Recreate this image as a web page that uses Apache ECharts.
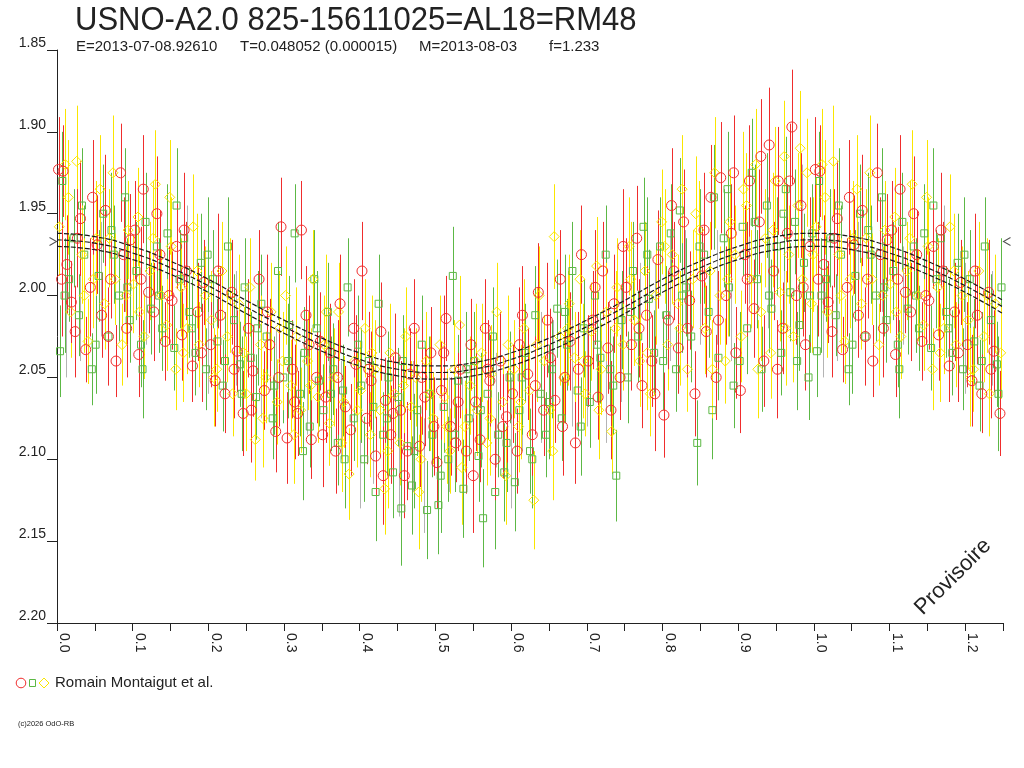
<!DOCTYPE html>
<html>
<head>
<meta charset="utf-8">
<title>USNO-A2.0 825-15611025</title>
<script src="https://cdn.jsdelivr.net/npm/echarts@6/dist/echarts.min.js"></script>
<style>
  html, body { margin: 0; padding: 0; background: #fff; }
  #chart { width: 1024px; height: 768px; }
</style>
</head>
<body>
<div id="chart"></div>
<script>
const redObs = [
  [0.002,1.923,0.032],[0.008,1.924,0.028],[0.013,1.981,0.03],[0.019,2.004,0.025],[0.024,2.022,0.028],[0.031,1.953,0.035],[0.038,2.033,0.02],[0.044,1.995,0.03],
  [0.053,1.969,0.03],[0.059,2.012,0.026],[0.064,1.948,0.034],[0.071,1.99,0.024],[0.078,2.04,0.022],[0.084,1.925,0.03],[0.092,2.02,0.03],[0.097,1.966,0.028],
  [0.103,1.96,0.03],[0.108,2.036,0.026],[0.114,1.935,0.033],[0.121,1.998,0.025],[0.128,2.01,0.03],[0.136,1.975,0.027],[0.143,2.028,0.024],
  [0.152,2.003,0.03],[0.158,1.97,0.026],[0.165,2.024,0.028],[0.171,1.985,0.03],[0.179,2.043,0.022],[0.186,2.01,0.03],[0.194,1.992,0.026],
  [0.203,2.03,0.026],[0.209,2.052,0.028],[0.216,2.012,0.03],[0.222,2.06,0.024],[0.231,1.998,0.032],[0.238,2.034,0.025],[0.246,2.072,0.026],
  [0.253,2.02,0.03],[0.259,2.046,0.028],[0.267,1.99,0.03],[0.274,2.058,0.024],[0.281,2.03,0.028],[0.289,2.083,0.025],[0.296,1.958,0.03],
  [0.304,2.087,0.028],[0.311,2.045,0.03],[0.318,2.072,0.026],[0.323,1.96,0.03],[0.329,2.012,0.03],[0.336,2.088,0.024],[0.343,2.05,0.028],[0.348,2.028,0.03],
  [0.355,2.062,0.028],[0.361,2.035,0.03],[0.368,2.095,0.026],[0.374,2.005,0.03],[0.381,2.068,0.025],[0.388,2.082,0.028],[0.395,2.042,0.03],
  [0.403,1.985,0.03],[0.409,2.075,0.028],[0.415,2.052,0.03],[0.421,2.098,0.024],[0.428,2.022,0.03],[0.434,2.064,0.026],[0.441,2.085,0.03],[0.447,2.038,0.027],
  [0.454,2.07,0.03],[0.459,2.11,0.026],[0.466,2.048,0.028],[0.472,2.02,0.03],[0.479,2.092,0.025],[0.486,2.062,0.03],[0.494,2.035,0.028],
  [0.502,2.102,0.028],[0.508,2.058,0.03],[0.514,2.014,0.026],[0.52,2.08,0.03],[0.527,2.09,0.024],[0.533,2.045,0.03],[0.541,2.095,0.026],[0.547,2.03,0.028],
  [0.553,2.065,0.03],[0.559,2.088,0.026],[0.566,2.02,0.03],[0.572,2.052,0.028],[0.579,2.1,0.025],[0.586,2.04,0.03],[0.594,2.074,0.028],
  [0.602,2.06,0.03],[0.608,2.095,0.026],[0.615,2.012,0.03],[0.622,2.048,0.028],[0.628,2.085,0.025],[0.636,1.998,0.03],[0.643,2.07,0.028],
  [0.652,2.038,0.03],[0.658,2.064,0.026],[0.665,1.99,0.03],[0.671,2.05,0.028],[0.678,2.028,0.03],[0.685,2.09,0.025],[0.693,1.975,0.03],
  [0.702,2.04,0.028],[0.708,2.015,0.03],[0.715,2.062,0.026],[0.721,1.985,0.03],[0.728,2.032,0.028],[0.736,2.005,0.03],[0.744,2.05,0.026],
  [0.752,1.995,0.03],[0.759,2.03,0.028],[0.766,1.965,0.032],[0.773,2.055,0.026],[0.779,2.012,0.03],[0.786,2.04,0.028],[0.794,1.978,0.03],
  [0.802,2.073,0.026],[0.808,2.015,0.03],[0.815,1.985,0.03],[0.821,2.032,0.028],[0.828,1.955,0.032],[0.836,2.003,0.03],[0.843,2.06,0.026],
  [0.852,1.988,0.03],[0.858,2.022,0.028],[0.864,1.94,0.032],[0.871,2.05,0.026],[0.877,1.928,0.034],[0.884,2.0,0.03],[0.891,1.962,0.03],[0.897,2.035,0.028],
  [0.903,2.058,0.026],[0.909,1.975,0.03],[0.915,1.93,0.034],[0.921,2.008,0.03],[0.928,1.955,0.032],[0.934,2.04,0.028],[0.941,1.908,0.035],[0.947,1.985,0.03],
  [0.953,1.93,0.033],[0.959,2.02,0.028],[0.965,1.962,0.03],[0.971,1.897,0.035],[0.977,2.0,0.03],[0.983,1.945,0.032],[0.989,2.03,0.028],[0.995,1.97,0.03],
  [0.006,1.99,0.035],[0.027,1.965,0.03],[0.047,1.94,0.035],[0.068,2.025,0.03],[0.088,1.975,0.035],[0.111,1.99,0.032],[0.132,1.95,0.035],[0.148,2.0,0.03],
  [0.168,1.96,0.035],[0.191,2.035,0.03],[0.213,1.985,0.035],[0.234,2.045,0.03],[0.257,2.07,0.032],[0.278,2.01,0.035],[0.293,2.05,0.03],[0.314,2.065,0.035],
  [0.333,2.03,0.03],[0.351,2.085,0.032],[0.371,2.05,0.035],[0.392,2.02,0.03],[0.412,2.045,0.035],[0.431,2.11,0.03],[0.444,2.072,0.035],[0.463,2.095,0.03],
  [0.482,2.05,0.035],[0.498,2.08,0.03],[0.511,2.035,0.035],[0.53,2.065,0.03],[0.55,2.11,0.035],[0.569,2.045,0.03],[0.589,2.08,0.032],[0.611,2.03,0.035],
  [0.632,2.055,0.03],[0.648,2.015,0.035],[0.668,2.08,0.03],[0.689,2.045,0.035],[0.711,1.995,0.035],[0.732,2.07,0.03],[0.748,1.97,0.035],[0.769,2.02,0.03],
  [0.79,2.06,0.035],[0.812,1.945,0.035],[0.833,2.02,0.03],[0.855,1.96,0.035],[0.874,2.015,0.03],[0.894,1.925,0.035],[0.912,1.99,0.035],[0.93,1.915,0.035],
  [0.952,2.045,0.03],[0.968,1.93,0.035],[0.986,1.995,0.03]
];
const greenObs = [
  [0.004,2.034,0.028],[0.007,1.93,0.03],[0.016,1.99,0.026],[0.022,1.965,0.03],[0.029,2.012,0.025],[0.036,1.975,0.03],[0.046,2.045,0.022],
  [0.055,1.988,0.028],[0.061,1.95,0.03],[0.068,2.025,0.026],[0.075,1.975,0.03],[0.082,2.0,0.028],[0.09,1.94,0.03],[0.096,2.015,0.026],
  [0.105,1.985,0.03],[0.111,2.03,0.026],[0.117,1.955,0.03],[0.124,2.008,0.028],[0.132,1.97,0.03],[0.139,2.02,0.026],[0.146,1.962,0.03],
  [0.155,2.032,0.026],[0.162,1.99,0.03],[0.168,1.965,0.03],[0.175,2.01,0.028],[0.183,2.035,0.026],[0.19,1.98,0.03],[0.197,2.045,0.025],
  [0.206,1.99,0.03],[0.212,2.028,0.026],[0.219,2.055,0.028],[0.226,1.97,0.03],[0.234,2.015,0.028],[0.242,2.042,0.026],[0.248,1.995,0.03],
  [0.256,2.038,0.028],[0.263,2.062,0.026],[0.27,2.005,0.03],[0.277,2.025,0.028],[0.285,2.075,0.025],[0.292,1.985,0.03],[0.299,2.05,0.028],
  [0.307,2.018,0.03],[0.314,1.962,0.03],[0.321,2.06,0.026],[0.327,2.035,0.028],[0.334,2.08,0.025],[0.34,1.99,0.03],[0.346,2.052,0.028],
  [0.352,2.07,0.028],[0.358,2.01,0.03],[0.365,2.045,0.028],[0.371,2.09,0.026],[0.378,2.058,0.028],[0.384,1.995,0.03],[0.392,2.075,0.026],[0.398,2.03,0.03],
  [0.406,2.1,0.026],[0.412,2.04,0.03],[0.418,2.068,0.028],[0.425,2.005,0.03],[0.431,2.085,0.026],[0.438,2.05,0.028],[0.444,2.108,0.028],
  [0.451,2.062,0.03],[0.457,2.04,0.028],[0.463,2.092,0.026],[0.469,2.116,0.03],[0.476,2.07,0.028],[0.482,2.03,0.03],[0.489,2.131,0.03],[0.496,2.085,0.026],
  [0.504,2.128,0.03],[0.511,2.068,0.028],[0.517,2.1,0.026],[0.523,1.988,0.03],[0.53,2.052,0.028],[0.537,2.118,0.03],[0.544,2.075,0.026],
  [0.551,2.04,0.03],[0.557,2.098,0.028],[0.563,2.136,0.03],[0.569,2.06,0.028],[0.576,2.025,0.03],[0.583,2.085,0.026],[0.591,2.108,0.03],[0.598,2.05,0.028],
  [0.605,2.114,0.03],[0.611,2.07,0.028],[0.618,2.035,0.03],[0.625,2.095,0.026],[0.632,2.012,0.03],[0.639,2.06,0.028],[0.646,2.085,0.026],
  [0.654,2.045,0.03],[0.661,2.008,0.03],[0.667,2.075,0.026],[0.674,2.03,0.028],[0.681,1.985,0.03],[0.688,2.058,0.028],[0.696,2.02,0.03],
  [0.704,2.065,0.028],[0.711,2.0,0.03],[0.718,2.038,0.028],[0.725,1.975,0.03],[0.731,2.045,0.026],[0.739,2.11,0.028],[0.746,2.015,0.03],
  [0.754,2.05,0.028],[0.761,1.985,0.03],[0.768,2.025,0.028],[0.775,1.958,0.03],[0.782,2.002,0.03],[0.789,2.035,0.026],[0.797,1.97,0.03],
  [0.805,2.012,0.03],[0.811,1.962,0.03],[0.818,2.045,0.026],[0.823,1.948,0.032],[0.831,1.995,0.03],[0.838,2.025,0.028],[0.846,2.09,0.026],
  [0.855,1.975,0.03],[0.861,2.01,0.028],[0.868,1.94,0.032],[0.874,2.038,0.026],[0.881,1.965,0.03],[0.888,1.995,0.03],[0.894,2.055,0.026],
  [0.906,1.958,0.03],[0.912,2.02,0.028],[0.918,1.925,0.033],[0.925,1.99,0.03],[0.931,2.045,0.026],[0.938,1.945,0.032],[0.944,2.008,0.03],
  [0.951,1.97,0.03],[0.957,2.035,0.026],[0.963,1.935,0.032],[0.969,1.998,0.03],[0.975,1.955,0.032],[0.981,2.018,0.028],[0.987,1.98,0.03],[0.993,2.05,0.026],[0.998,1.962,0.03],
  [0.01,2.0,0.035],[0.033,1.945,0.035],[0.051,2.03,0.03],[0.072,1.96,0.035],[0.093,1.995,0.03],[0.113,2.045,0.03],[0.135,2.0,0.035],[0.158,1.945,0.035],
  [0.178,2.02,0.03],[0.199,1.975,0.035],[0.222,2.04,0.03],[0.244,2.06,0.035],[0.265,2.02,0.035],[0.287,2.055,0.03],[0.305,2.04,0.035],[0.325,2.095,0.03],
  [0.343,2.02,0.035],[0.362,2.06,0.035],[0.38,2.1,0.03],[0.402,2.055,0.035],[0.421,2.12,0.03],[0.436,2.075,0.035],[0.455,2.13,0.035],[0.472,2.095,0.035],
  [0.492,2.06,0.035],[0.507,2.11,0.035],[0.526,2.085,0.035],[0.541,2.045,0.035],[0.56,2.07,0.035],[0.579,2.12,0.035],[0.594,2.09,0.03],[0.614,2.05,0.035],
  [0.628,2.1,0.03],[0.65,2.065,0.035],[0.671,2.01,0.035],[0.692,2.08,0.03],[0.714,2.03,0.035],[0.735,2.055,0.03],[0.758,2.01,0.035],[0.78,1.975,0.035],
  [0.801,2.04,0.03],[0.826,2.0,0.035],[0.849,1.97,0.035],[0.866,2.07,0.03],[0.886,1.935,0.035],[0.902,2.04,0.03],[0.922,1.955,0.035],[0.941,2.0,0.035],
  [0.96,1.95,0.035],[0.978,2.04,0.03],[0.995,2.0,0.035]
];
const yellowObs = [
  [0.003,1.958,0.03],[0.011,1.92,0.034],[0.018,2.01,0.028],[0.026,1.918,0.034],[0.033,1.975,0.03],[0.041,2.028,0.026],[0.048,1.99,0.03],
  [0.057,1.935,0.033],[0.063,2.005,0.028],[0.069,1.965,0.03],[0.077,1.99,0.028],[0.086,2.03,0.025],[0.094,1.96,0.03],
  [0.101,1.993,0.03],[0.107,1.952,0.03],[0.115,2.025,0.026],[0.123,1.985,0.03],[0.13,1.932,0.033],[0.138,2.0,0.028],[0.145,2.018,0.028],
  [0.151,1.97,0.03],[0.157,2.045,0.025],[0.164,1.995,0.03],[0.172,2.02,0.028],[0.18,1.958,0.032],[0.188,2.03,0.026],[0.196,2.0,0.03],
  [0.204,2.015,0.03],[0.211,2.045,0.026],[0.218,1.985,0.03],[0.225,2.025,0.028],[0.232,2.06,0.026],[0.24,2.005,0.03],[0.247,2.035,0.028],
  [0.255,1.995,0.03],[0.262,2.088,0.025],[0.269,2.03,0.03],[0.276,2.05,0.028],[0.283,2.01,0.03],[0.291,2.065,0.026],[0.298,2.04,0.03],
  [0.302,2.0,0.03],[0.309,2.055,0.028],[0.316,2.025,0.03],[0.322,2.07,0.026],[0.331,2.04,0.03],[0.338,1.99,0.03],[0.345,2.062,0.028],
  [0.353,2.03,0.03],[0.36,2.078,0.026],[0.366,2.05,0.03],[0.372,2.01,0.03],[0.379,2.065,0.028],[0.386,2.109,0.028],[0.393,2.04,0.03],
  [0.401,2.058,0.03],[0.407,2.02,0.03],[0.414,2.085,0.026],[0.42,2.045,0.03],[0.427,2.07,0.028],[0.433,2.118,0.028],[0.44,2.035,0.03],[0.446,2.06,0.028],
  [0.453,2.09,0.026],[0.461,2.025,0.03],[0.468,2.068,0.028],[0.474,2.05,0.03],[0.481,2.1,0.026],[0.488,2.04,0.03],[0.497,2.075,0.028],
  [0.506,2.03,0.03],[0.512,2.062,0.028],[0.519,2.095,0.026],[0.525,2.045,0.03],[0.532,2.018,0.03],[0.539,2.08,0.028],[0.546,2.055,0.03],
  [0.555,2.07,0.028],[0.561,2.035,0.03],[0.568,2.09,0.026],[0.574,2.048,0.03],[0.581,2.01,0.03],[0.589,2.065,0.028],[0.596,2.03,0.03],
  [0.604,2.045,0.03],[0.61,2.08,0.028],[0.617,2.02,0.03],[0.624,2.058,0.028],[0.63,2.125,0.03],[0.637,2.0,0.03],[0.644,2.04,0.028],
  [0.651,2.07,0.028],[0.657,1.964,0.032],[0.664,2.025,0.03],[0.67,2.05,0.028],[0.677,2.005,0.03],[0.684,2.038,0.028],[0.691,1.99,0.03],[0.698,2.06,0.026],
  [0.706,2.022,0.03],[0.713,1.982,0.03],[0.719,2.045,0.028],[0.726,2.01,0.03],[0.733,2.083,0.026],[0.74,1.995,0.03],[0.748,2.03,0.028],
  [0.756,1.97,0.03],[0.763,2.015,0.028],[0.77,2.04,0.028],[0.777,1.985,0.03],[0.784,2.06,0.026],[0.791,2.0,0.03],[0.799,1.955,0.032],
  [0.807,2.03,0.028],[0.813,1.975,0.03],[0.82,2.005,0.03],[0.826,1.935,0.033],[0.833,2.045,0.026],[0.84,1.99,0.03],[0.848,1.96,0.03],
  [0.856,2.02,0.028],[0.863,1.985,0.03],[0.869,1.925,0.034],[0.876,2.0,0.03],[0.883,2.04,0.026],[0.889,1.955,0.032],[0.896,1.975,0.03],
  [0.904,2.025,0.028],[0.911,1.945,0.032],[0.917,1.99,0.03],[0.923,1.92,0.034],[0.93,2.01,0.03],[0.936,1.965,0.03],[0.943,2.035,0.028],[0.949,1.93,0.033],
  [0.955,1.998,0.03],[0.961,1.915,0.034],[0.967,1.975,0.03],[0.973,2.025,0.028],[0.979,1.945,0.032],[0.985,1.99,0.03],[0.991,1.925,0.033],[0.997,2.005,0.03],
  [0.015,1.94,0.035],[0.036,2.0,0.035],[0.052,1.965,0.035],[0.074,1.925,0.035],[0.091,2.0,0.03],[0.109,2.01,0.035],[0.127,1.965,0.035],[0.149,1.94,0.035],
  [0.167,2.035,0.03],[0.185,1.985,0.035],[0.207,2.05,0.03],[0.229,2.0,0.035],[0.25,2.06,0.035],[0.272,2.075,0.03],[0.294,2.02,0.035],[0.313,2.085,0.03],
  [0.335,2.055,0.035],[0.356,2.01,0.035],[0.376,2.09,0.03],[0.397,2.07,0.035],[0.416,2.035,0.035],[0.437,2.095,0.035],[0.458,2.055,0.035],[0.478,2.12,0.035],
  [0.493,2.06,0.035],[0.515,2.08,0.035],[0.535,2.105,0.035],[0.553,2.04,0.035],[0.572,2.075,0.035],[0.593,2.11,0.03],[0.613,2.065,0.035],[0.634,2.03,0.035],
  [0.655,2.095,0.03],[0.675,2.02,0.035],[0.695,2.04,0.035],[0.716,2.07,0.03],[0.738,2.02,0.035],[0.758,1.99,0.035],[0.78,2.035,0.035],[0.803,1.97,0.035],
  [0.823,2.02,0.035],[0.844,1.95,0.035],[0.866,2.045,0.03],[0.886,1.99,0.035],[0.907,1.935,0.035],[0.926,2.045,0.03],[0.946,1.96,0.035],[0.963,2.02,0.035],
  [0.982,1.91,0.035],[0.999,1.975,0.035]
];
// bars drawn without a marker
const grayObs = [
  [0.012,2.02,0.03],[0.058,1.99,0.035],[0.118,2.0,0.03],[0.172,1.975,0.03],[0.236,2.02,0.035],[0.27,2.045,0.03],
  [0.33,2.05,0.035],[0.375,2.07,0.03],[0.418,2.08,0.035],[0.452,2.1,0.035],[0.485,2.11,0.035],[0.518,2.085,0.035],
  [0.55,2.1,0.035],[0.58,2.07,0.035],[0.615,2.06,0.035],[0.655,2.045,0.03],[0.7,2.05,0.03],[0.745,2.03,0.035],
  [0.79,2.01,0.03],[0.83,1.99,0.03],[0.872,1.995,0.035],[0.915,1.97,0.035],[0.96,1.99,0.03],
  [0.03,2.0,0.04],[0.09,1.97,0.04],[0.145,1.99,0.04],[0.2,2.02,0.04],[0.29,2.06,0.04],[0.36,2.05,0.04],[0.4,2.09,0.04],
  [0.47,2.08,0.04],[0.535,2.09,0.04],[0.6,2.09,0.04],[0.64,2.05,0.04],[0.68,2.04,0.04],[0.725,2.05,0.04],[0.77,2.02,0.04],
  [0.81,2.0,0.04],[0.85,1.99,0.04],[0.89,2.0,0.04],[0.94,1.98,0.04],[0.985,1.96,0.04]
];

// ephemeris curve (three dashed lines)
const curvePhase = [0,0.05,0.1,0.15,0.2,0.25,0.3,0.35,0.4,0.45,0.5,0.55,0.6,0.65,0.7,0.75,0.8,0.85,0.9,0.95,1.0,1.05,1.1,1.15,1.2,1.25];
const curveMid = [1.966,1.968,1.974,1.983,1.994,2.007,2.019,2.030,2.039,2.045,2.047,2.045,2.039,2.030,2.019,2.007,1.994,1.983,1.974,1.968,1.966,1.968,1.974,1.983,1.994,2.007];
const curveHi = [1.962,1.964,1.970,1.979,1.990,2.003,2.015,2.026,2.035,2.041,2.043,2.041,2.035,2.026,2.015,2.003,1.990,1.979,1.970,1.964,1.962,1.964,1.970,1.979,1.990,2.003];
const curveLo = [1.970,1.972,1.978,1.987,1.998,2.011,2.023,2.034,2.043,2.049,2.051,2.049,2.043,2.034,2.023,2.011,1.998,1.987,1.978,1.972,1.970,1.972,1.978,1.987,1.998,2.011];
const maxMag = [1.967]; // the > < marks at the sides

const yTicks = { min: 1.85, max: 2.20, step: 0.05 };
const xTicks = { min: 0, max: 1.25, step: 0.05 };

const RED = '#f02d2d', GREEN = '#5cb845', YELLOW = '#fae600', GRAY = '#b4b4b4';
const FONT = '"Liberation Sans", Arial, sans-serif';

// phase > 1 repeats the start of the cycle
function fold(obs) {
  let out = [];
  for (let i = 0; i < obs.length; i++) {
    out.push(obs[i]);
    if (obs[i][0] < 0.25) out.push([obs[i][0] + 1, obs[i][1], obs[i][2]]);
  }
  return out;
}

function errBars(obs, color) {
  return {
    type: 'custom',
    data: fold(obs),
    encode: { x: 0, y: 1 },
    silent: true,
    clip: true,
    z: 2,
    renderItem: function (params, api) {
      let ph = api.value(0), m = api.value(1), e = api.value(2);
      let a = api.coord([ph, m - e]), b = api.coord([ph, m + e]);
      let x = Math.round(a[0]) + 0.5;
      return {
        type: 'line',
        shape: { x1: x, y1: a[1], x2: x, y2: b[1] },
        style: { stroke: color, lineWidth: 1 }
      };
    }
  };
}

function marks(obs, color, symbol, size) {
  return {
    type: 'scatter',
    data: fold(obs).map(p => [p[0], p[1]]),
    symbol: symbol,
    symbolSize: size,
    silent: true,
    clip: true,
    z: 3,
    itemStyle: { color: 'rgba(0,0,0,0)', borderColor: color, borderWidth: 1, opacity: 1 },
    emphasis: { disabled: true }
  };
}

function curve(vals) {
  return {
    type: 'line',
    data: curvePhase.map((p, i) => [p, vals[i]]),
    smooth: true,
    showSymbol: false,
    silent: true,
    z: 5,
    lineStyle: { color: '#1a1a1a', width: 1.2, type: [5, 2] }
  };
}

const chart = echarts.init(document.getElementById('chart'), null, { renderer: 'canvas' });

chart.setOption({
  animation: false,
  backgroundColor: '#fff',
  grid: { left: 57, top: 50, right: 21, bottom: 145, containLabel: false, outerBoundsMode: 'none' },
  xAxis: {
    type: 'value',
    min: xTicks.min, max: xTicks.max, interval: xTicks.step,
    axisLine: { show: true, onZero: false, lineStyle: { color: '#222', width: 1 } },
    axisTick: { show: true, inside: false, length: 8, lineStyle: { color: '#222', width: 1 } },
    splitLine: { show: false },
    axisLabel: {
      rotate: -90, margin: 10, align: 'left', verticalAlign: 'bottom',
      color: '#222', fontSize: 14, fontFamily: FONT,
      formatter: v => (Math.round(v * 100) % 10 === 0 ? v.toFixed(1) : '')
    }
  },
  yAxis: {
    type: 'value', inverse: true,
    min: yTicks.min, max: yTicks.max, interval: yTicks.step,
    axisLine: { show: true, onZero: false, lineStyle: { color: '#222', width: 1 } },
    axisTick: { show: true, inside: false, length: 10, lineStyle: { color: '#222', width: 1 } },
    splitLine: { show: false },
    axisLabel: {
      margin: 11, verticalAlign: 'bottom', color: '#222', fontSize: 14, fontFamily: FONT,
      formatter: v => v.toFixed(2)
    }
  },
  series: [
    errBars(grayObs, GRAY),
    errBars(greenObs, GREEN),
    errBars(yellowObs, YELLOW),
    errBars(redObs, RED),
    marks(greenObs, GREEN, 'rect', 7),
    marks(yellowObs, YELLOW, 'diamond', [10, 10]),
    marks(redObs, RED, 'circle', 10),
    curve(curveHi),
    curve(curveMid),
    curve(curveLo),
    {
      // > and < marks beside the axes
      type: 'scatter',
      data: [
        { value: [xTicks.min, maxMag[0]], symbolOffset: [-4, 0] },
        { value: [xTicks.max, maxMag[0]], symbolRotate: 180, symbolOffset: [4, 0] }
      ],
      symbol: 'path://M0,0L8,4L0,8',
      symbolSize: [7, 8],
      clip: false,
      silent: true,
      z: 6,
      itemStyle: { color: 'rgba(0,0,0,0)', borderColor: '#222', borderWidth: 1 }
    }
  ],
  graphic: [
    { type: 'text', x: 75, y: 21, scaleX: 0.94, style: { text: 'USNO-A2.0 825-15611025=AL18=RM48', font: '33px ' + FONT, fill: '#222', verticalAlign: 'middle' } },
    { type: 'text', x: 76, y: 47, style: { text: 'E=2013-07-08.92610', font: '15px ' + FONT, fill: '#222', verticalAlign: 'middle' } },
    { type: 'text', x: 240, y: 47, style: { text: 'T=0.048052 (0.000015)', font: '15px ' + FONT, fill: '#222', verticalAlign: 'middle' } },
    { type: 'text', x: 419, y: 47, style: { text: 'M=2013-08-03', font: '15px ' + FONT, fill: '#222', verticalAlign: 'middle' } },
    { type: 'text', x: 549, y: 47, style: { text: 'f=1.233', font: '15px ' + FONT, fill: '#222', verticalAlign: 'middle' } },
    { type: 'text', x: 953, y: 577, rotation: Math.PI / 4, style: { text: 'Provisoire', font: '22px ' + FONT, fill: '#222', align: 'center', verticalAlign: 'middle' } },
    // legend
    { type: 'circle', shape: { cx: 21, cy: 683, r: 4.8 }, style: { fill: 'none', stroke: RED, lineWidth: 1 } },
    { type: 'rect', shape: { x: 29.5, y: 679.5, width: 6, height: 7 }, style: { fill: 'none', stroke: GREEN, lineWidth: 1 } },
    { type: 'polygon', shape: { points: [[44, 678], [49, 683], [44, 688], [39, 683]] }, style: { fill: 'none', stroke: YELLOW, lineWidth: 1 } },
    { type: 'text', x: 55, y: 683, style: { text: 'Romain Montaigut et al.', font: '15px ' + FONT, fill: '#222', verticalAlign: 'middle' } },
    { type: 'text', x: 18, y: 724, style: { text: '(c)2026 OdO-RB', font: '7.5px ' + FONT, fill: '#222', verticalAlign: 'middle' } }
  ]
});
</script>
</body>
</html>
